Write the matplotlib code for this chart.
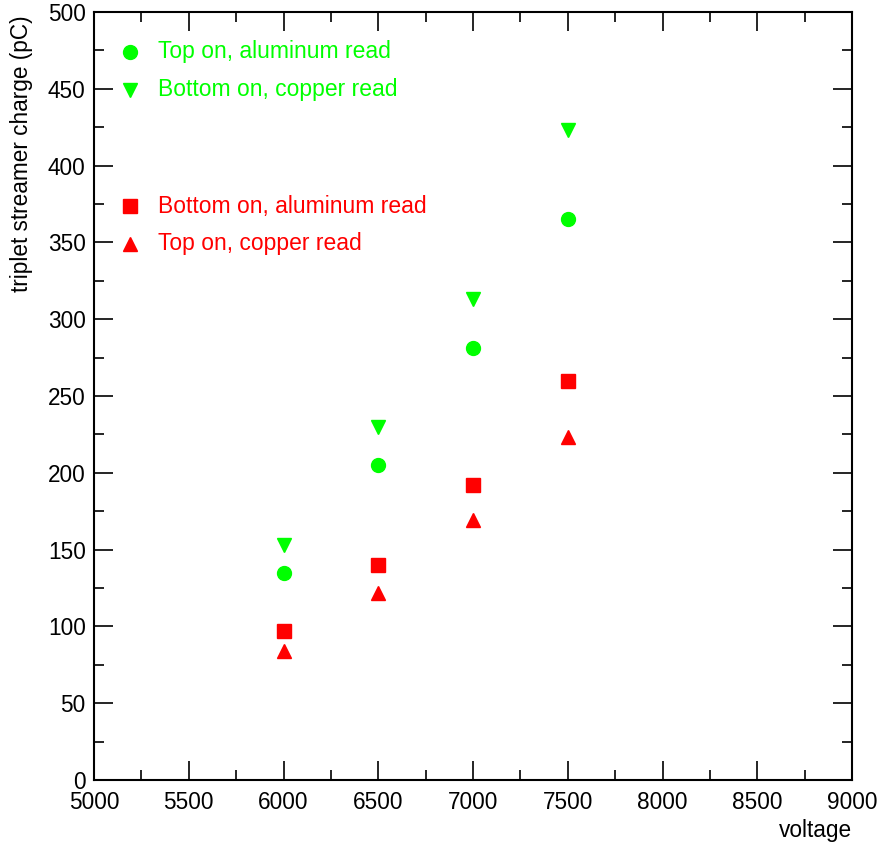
import matplotlib
matplotlib.use("Agg")
import matplotlib.pyplot as plt
from matplotlib.ticker import MultipleLocator

plt.rcParams['font.family'] = ['Liberation Sans', 'DejaVu Sans']

# data
voltage = [6000, 6500, 7000, 7500]
top_al = [135, 205, 281, 365]       # Top on, aluminum read
bot_cu = [153, 230, 313, 423]       # Bottom on, copper read
bot_al = [97, 140, 192, 260]        # Bottom on, aluminum read
top_cu = [84, 122, 169, 223]        # Top on, copper read

green = '#00ff00'
red = '#ff0000'
series = [
    (top_al, 'o', green, 'Top on, aluminum read', 0.948),
    (bot_cu, 'v', green, 'Bottom on, copper read', 0.899),
    (bot_al, 's', red, 'Bottom on, aluminum read', 0.747),
    (top_cu, '^', red, 'Top on, copper read', 0.698),
]

fig = plt.figure(figsize=(8.8, 8.42), dpi=100)
ax = fig.add_axes([94 / 880, 62 / 842, 758 / 880, 768 / 842])

for vals, m, c, lab, ly in series:
    ax.plot(voltage, vals, linestyle='none', marker=m, color=c, markersize=10)
    # hand-made legend entry
    ax.plot([0.0475], [ly], transform=ax.transAxes, linestyle='none',
            marker=m, color=c, markersize=10, clip_on=False)
    ax.text(0.0844, ly, lab, transform=ax.transAxes, color=c,
            fontsize=16.5, va='center', ha='left')

ax.set_xlim(5000, 9000)
ax.set_ylim(0, 500)
ax.xaxis.set_major_locator(MultipleLocator(500))
ax.xaxis.set_minor_locator(MultipleLocator(250))
ax.yaxis.set_major_locator(MultipleLocator(50))
ax.yaxis.set_minor_locator(MultipleLocator(25))
ax.tick_params(which='both', direction='in', top=True, right=True,
               labelsize=16.3, width=1.2, color='black')
ax.tick_params(which='major', length=14)
ax.tick_params(which='minor', length=7)
ax.tick_params(axis='x', pad=8)
ax.tick_params(axis='y', pad=6)
for s in ax.spines.values():
    s.set_linewidth(1.5)

ax.set_xlabel('voltage', loc='right', fontsize=16.3)
ax.xaxis.set_label_coords(1.0, -0.051)
ax.set_ylabel('triplet streamer charge (pC)', loc='top', fontsize=16.3)
ax.yaxis.set_label_coords(-0.080, 0.996)

fig.savefig('out.png', dpi=100)
